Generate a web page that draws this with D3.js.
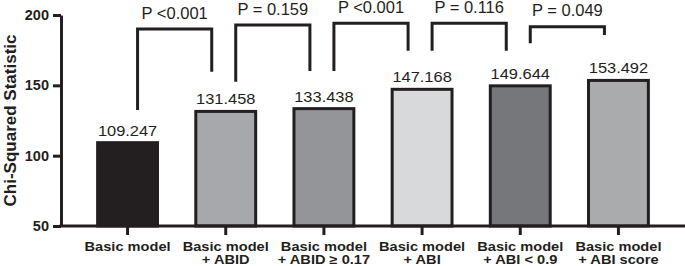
<!DOCTYPE html>
<html>
<head>
<meta charset="utf-8">
<script src="https://cdn.jsdelivr.net/npm/d3@7"></script>
<style>
  body { margin: 0; background: #fff; }
  svg { display: block; font-family: "Liberation Sans", Arial, sans-serif; }
  .axis path, .axis line { stroke: #231f20; stroke-width: 3; }
</style>
</head>
<body>
<div id="chart"></div>
<script>
// data
const models = ["Basic model", "+ ABID", "+ ABID \u2265 0.17", "+ ABI", "+ ABI < 0.9", "+ ABI score"];
const chiSq = [109.247, 131.458, 133.438, 147.168, 149.644, 153.492];
const barColors = ["#231f20", "#a6a8ab", "#939598", "#d8d9da", "#76777a", "#a9abad"];
const yTicks = [50, 100, 150, 200];

// comparisons between neighbouring models
const pairs = [[0, 1], [1, 2], [2, 3], [3, 4], [4, 5]];
const pLabels = ["P <0.001", "P = 0.159", "P <0.001", "P = 0.116", "P = 0.049"];
const bracketTop = [190.0, 192.9, 194.1, 194.1, 191.7];
const legLeft = [132.5, 152.6, 160.2, 174.6, 179.9];
const legRight = [159.7, 160.2, 174.6, 174.6, 185.8];

const width = 685, height = 266;
const margin = { top: 15, bottom: 40, left: 61, right: 0 };
const ink = "#231f20";

const svg = d3.select("#chart")
    .append("svg")
    .attr("width", width)
    .attr("height", height);

const xScale = d3.scaleBand()
    .domain(d3.range(models.length))
    .range([margin.left, width - margin.right])
    .paddingInner(0.39)
    .paddingOuter(0.373);

const yScale = d3.scaleLinear()
    .domain([50, 200])
    .range([height - margin.bottom, margin.top]);

const cx = i => xScale(i) + xScale.bandwidth() / 2;

// bars
svg.append("g")
    .selectAll("rect")
    .data(chiSq)
    .join("rect")
    .attr("x", (d, i) => xScale(i))
    .attr("y", d => yScale(d))
    .attr("width", xScale.bandwidth())
    .attr("height", d => yScale(50) - yScale(d))
    .attr("fill", (d, i) => barColors[i])
    .attr("stroke", ink)
    .attr("stroke-width", 3);

// value labels
svg.append("g")
    .selectAll("text")
    .data(chiSq)
    .join("text")
    .attr("transform", (d, i) => `translate(${cx(i)},${yScale(d) - 7}) scale(1.06,1)`)
    .attr("text-anchor", "middle")
    .attr("font-size", 15.5)
    .attr("fill", ink)
    .text(d => d3.format(".3f")(d));

// y axis
const yAxis = svg.append("g")
    .attr("class", "axis")
    .attr("transform", `translate(${margin.left},0)`)
    .call(d3.axisLeft(yScale).tickValues(yTicks).tickSize(8).tickSizeOuter(0).tickPadding(4));
yAxis.selectAll("text")
    .attr("font-size", 14.5)
    .attr("font-weight", "bold")
    .attr("font-family", "Liberation Sans, Arial, sans-serif")
    .attr("fill", ink);

// x axis
const xAxis = svg.append("g")
    .attr("class", "axis")
    .attr("transform", `translate(0,${yScale(50)})`)
    .call(d3.axisBottom(xScale).tickSize(9).tickSizeOuter(0).tickFormat(""));
xAxis.select(".domain").attr("d", `M${margin.left - 1.5},0H${width}`);

// category labels, drawn a little wide like the original
const xLabels = svg.append("g")
    .selectAll("text")
    .data(models)
    .join("text")
    .attr("transform", (d, i) => `translate(${cx(i)},0) scale(1.17,1)`)
    .attr("text-anchor", "middle")
    .attr("font-size", 12.5)
    .attr("font-weight", "bold")
    .attr("fill", ink);
xLabels.append("tspan")
    .attr("x", 0)
    .attr("y", 251)
    .text("Basic model");
xLabels.filter((d, i) => i > 0)
    .append("tspan")
    .attr("x", 0)
    .attr("y", 264.5)
    .text(d => d);

// y title
svg.append("text")
    .attr("transform", `translate(16,${(yScale(50) + yScale(200)) / 2}) rotate(-90)`)
    .attr("text-anchor", "middle")
    .attr("font-size", 17)
    .attr("font-weight", "bold")
    .attr("fill", ink)
    .text("Chi-Squared Statistic");

// comparison brackets
const br = svg.append("g");
br.selectAll("path")
    .data(pairs)
    .join("path")
    .attr("d", (p, k) => {
        const x1 = cx(p[0]) + 10, x2 = cx(p[1]) - 14;
        return `M${x1},${yScale(legLeft[k])}V${yScale(bracketTop[k])}H${x2}V${yScale(legRight[k])}`;
    })
    .attr("fill", "none")
    .attr("stroke", ink)
    .attr("stroke-width", 3);
br.selectAll("text")
    .data(pairs)
    .join("text")
    .attr("x", p => (cx(p[0]) + 10 + cx(p[1]) - 14) / 2)
    .attr("y", (p, k) => yScale(bracketTop[k]) - 10.5)
    .attr("text-anchor", "middle")
    .attr("font-size", 16.5)
    .attr("fill", ink)
    .text((p, k) => pLabels[k]);
</script>
</body>
</html>
